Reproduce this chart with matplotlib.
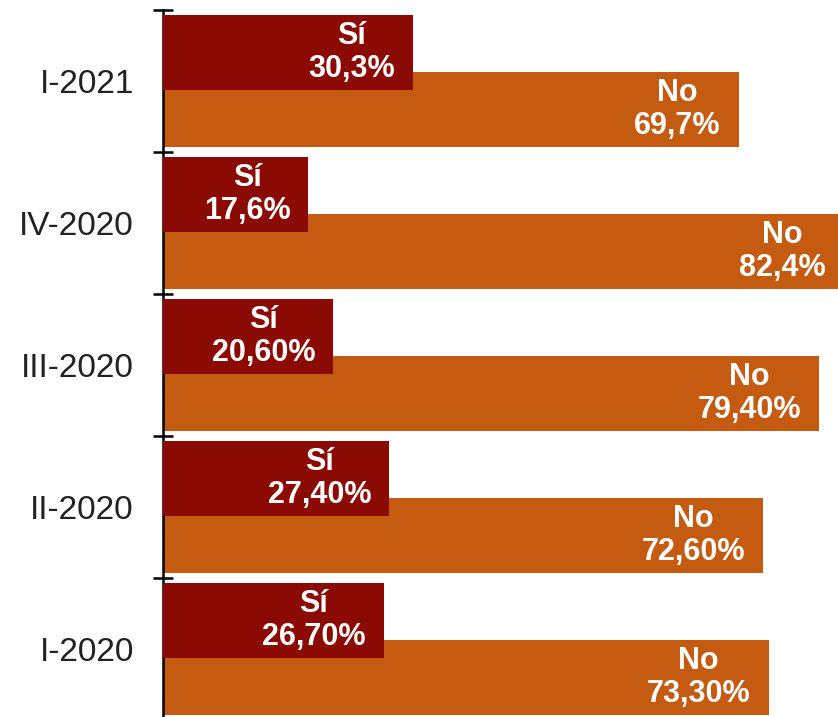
import matplotlib.pyplot as plt
import numpy as np

plt.rcParams['font.family'] = ['Liberation Sans', 'DejaVu Sans']

periods = ['I-2021', 'IV-2020', 'III-2020', 'II-2020', 'I-2020']
si = [30.3, 17.6, 20.6, 27.4, 26.7]
no = [69.7, 82.4, 79.4, 72.6, 73.3]
si_labels = ['30,3%', '17,6%', '20,60%', '27,40%', '26,70%']
no_labels = ['69,7%', '82,4%', '79,40%', '72,60%', '73,30%']

c_si = '#8b0a04'
c_no = '#c55a11'
narrow = ['Liberation Sans Narrow', 'Liberation Sans', 'DejaVu Sans']

fig = plt.figure(figsize=(8.38, 7.17), dpi=100)
ax = fig.add_axes([163 / 838, -3 / 717, 675 / 838, 710 / 717])

y = np.arange(len(periods))
h = 0.53
# No bar first so the Sí bar overlaps it
ax.barh(y + 0.2, no, height=h, color=c_no, zorder=2)
ax.barh(y - 0.2, si, height=h, color=c_si, zorder=3)

for i in range(len(periods)):
    ax.annotate('Sí\n' + si_labels[i], xy=(si[i], y[i] - 0.2), xytext=(-18, 0),
                textcoords='offset pixels', ha='right', va='center', multialignment='center',
                color='white', fontsize=22, fontweight='bold', family=narrow,
                zorder=5, linespacing=1.12)
    ax.annotate('No\n' + no_labels[i], xy=(no[i], y[i] + 0.2), xytext=(-18, 0),
                textcoords='offset pixels', ha='right', va='center', multialignment='center',
                color='white', fontsize=22, fontweight='bold', family=narrow,
                zorder=5, linespacing=1.12, annotation_clip=False)

ax.set_xlim(0, 81.7)
ax.set_ylim(len(periods) - 0.5, -0.5)

ax.set_yticks(np.arange(-0.5, len(periods)), minor=True)
ax.tick_params(axis='y', which='minor', length=14, width=1.8, direction='inout', color='black')
ax.set_yticks(y)
ax.set_yticklabels(periods)
ax.tick_params(axis='y', which='major', length=0, pad=21, labelsize=24, labelcolor='#222222')
ax.set_xticks([])

for s in ['top', 'right', 'bottom']:
    ax.spines[s].set_visible(False)
ax.spines['left'].set_linewidth(1.8)

plt.savefig('out.png')
